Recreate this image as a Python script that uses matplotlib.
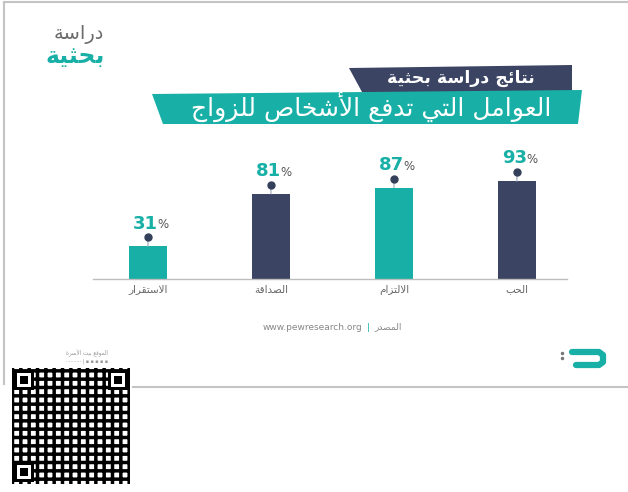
import matplotlib.pyplot as plt
from matplotlib.patches import Polygon, Rectangle
from matplotlib.transforms import offset_copy

plt.rcParams['font.family'] = ['DejaVu Sans']
plt.rcParams['hatch.linewidth'] = 2.5

# data
categories = ["الحب", "الالتزام", "الصداقة", "الاستقرار"]
values = [93, 87, 81, 31]
bar_colors = ["#3b4563", "#18b0a6", "#3b4563", "#18b0a6"]

title_top = "نتائج دراسة بحثية"
title_main = "العوامل التي تدفع الأشخاص للزواج"
source_label = "المصدر"
source_url = "www.pewresearch.org"

TEAL = "#18b0a6"
NAVY = "#3b4563"

# minimal arabic shaping: (isolated, final, initial, medial)
FORMS = {
    'ا': ('\uFE8D', '\uFE8E', None, None),
    'أ': ('\uFE83', '\uFE84', None, None),
    'ب': ('\uFE8F', '\uFE90', '\uFE91', '\uFE92'),
    'ة': ('\uFE93', '\uFE94', None, None),
    'ت': ('\uFE95', '\uFE96', '\uFE97', '\uFE98'),
    'ث': ('\uFE99', '\uFE9A', '\uFE9B', '\uFE9C'),
    'ج': ('\uFE9D', '\uFE9E', '\uFE9F', '\uFEA0'),
    'ح': ('\uFEA1', '\uFEA2', '\uFEA3', '\uFEA4'),
    'خ': ('\uFEA5', '\uFEA6', '\uFEA7', '\uFEA8'),
    'د': ('\uFEA9', '\uFEAA', None, None),
    'ر': ('\uFEAD', '\uFEAE', None, None),
    'ز': ('\uFEAF', '\uFEB0', None, None),
    'س': ('\uFEB1', '\uFEB2', '\uFEB3', '\uFEB4'),
    'ش': ('\uFEB5', '\uFEB6', '\uFEB7', '\uFEB8'),
    'ص': ('\uFEB9', '\uFEBA', '\uFEBB', '\uFEBC'),
    'ع': ('\uFEC9', '\uFECA', '\uFECB', '\uFECC'),
    'ف': ('\uFED1', '\uFED2', '\uFED3', '\uFED4'),
    'ق': ('\uFED5', '\uFED6', '\uFED7', '\uFED8'),
    'ل': ('\uFEDD', '\uFEDE', '\uFEDF', '\uFEE0'),
    'م': ('\uFEE1', '\uFEE2', '\uFEE3', '\uFEE4'),
    'ن': ('\uFEE5', '\uFEE6', '\uFEE7', '\uFEE8'),
    'و': ('\uFEED', '\uFEEE', None, None),
    'ي': ('\uFEF1', '\uFEF2', '\uFEF3', '\uFEF4'),
    'ئ': ('\uFE89', '\uFE8A', '\uFE8B', '\uFE8C'),
    'لا': ('\uFEFB', '\uFEFC', None, None),
    'لأ': ('\uFEF7', '\uFEF8', None, None),
}


def ar(text):
    units = []
    i = 0
    while i < len(text):
        if text[i] == 'ل' and i + 1 < len(text) and text[i + 1] in 'اأ':
            units.append(text[i:i + 2])
            i += 2
        else:
            units.append(text[i])
            i += 1
    out = []
    for k, u in enumerate(units):
        if u not in FORMS:
            out.append(u)
            continue
        prev = units[k - 1] if k > 0 else None
        nxt = units[k + 1] if k + 1 < len(units) else None
        jp = prev in FORMS and FORMS[prev][2] is not None
        jn = FORMS[u][2] is not None and nxt in FORMS
        f = FORMS[u]
        if jp and jn:
            out.append(f[3])
        elif jp:
            out.append(f[1])
        elif jn:
            out.append(f[2])
        else:
            out.append(f[0])
    return ''.join(out[::-1])


fig = plt.figure(figsize=(6.28, 4.92), dpi=100)

# background layer in pixel coordinates
bg = fig.add_axes([0, 0, 1, 1], zorder=0)
bg.set_xlim(0, 628)
bg.set_ylim(492, 0)
bg.axis('off')

# frame
bg.plot([4, 628], [1.5, 1.5], color="#c4c4c4", lw=1.5)
bg.plot([4, 4], [1.5, 384], color="#c4c4c4", lw=1.5)
bg.plot([133, 628], [387, 387], color="#c4c4c4", lw=1.5)

# header
bg.text(104, 35, ar("دراسة"), ha='right', va='center', fontsize=14, color="#6b6b6b")
bg.text(105, 56, ar("بحثية"), ha='right', va='center', fontsize=17,
        color=TEAL, fontweight='bold')

# banners
bg.add_patch(Polygon([(349, 68), (572, 65), (572, 92), (362, 92)], closed=True,
                     color=NAVY, lw=0))
bg.add_patch(Polygon([(152, 94), (582, 90), (578, 124), (163, 124)], closed=True,
                     color=TEAL, lw=0))
bg.text(461, 78, ar(title_top), ha='center', va='center', fontsize=12.5,
        color='white', fontweight='bold')
bg.text(371, 107, ar(title_main), ha='center', va='center', fontsize=18,
        color='white')

# source
bg.text(362, 327, source_url, ha='right', va='center', fontsize=6.5, color="#888888")
bg.text(368, 327, "|", ha='center', va='center', fontsize=6.5, color=TEAL)
bg.text(374, 327, ar(source_label), ha='left', va='center', fontsize=6.5, color="#888888")

# logo
bg.plot([572, 599, 603, 603, 599, 576], [352, 352, 355, 362, 365, 365],
        color=TEAL, lw=4.5, solid_capstyle='round', solid_joinstyle='round')
bg.plot([562, 562], [353, 358], 'o', ms=1.5, color="#777777")

# footer text and code block
bg.text(108, 353, ar("الموقع بيت الأسرة"), ha='right', va='center', fontsize=4, color="#999999")
bg.text(108, 361, "·········· | ▪ ▪ ▪ ▪ ▪", ha='right', va='center', fontsize=3.5, color="#999999")
bg.add_patch(Rectangle((12, 368), 118, 116, facecolor='white', edgecolor='black',
                       hatch='++', lw=0))
for fx, fy in [(14, 370), (108, 370), (14, 462)]:
    bg.add_patch(Rectangle((fx, fy), 20, 20, color='black', lw=0))
    bg.add_patch(Rectangle((fx + 3, fy + 3), 14, 14, color='white', lw=0))
    bg.add_patch(Rectangle((fx + 6, fy + 6), 8, 8, color='black', lw=0))

# bar chart
ax = fig.add_axes([93 / 628, 1 - 279 / 492, 474 / 628, 105 / 492], zorder=1)
ax.patch.set_alpha(0)
x = list(range(len(values)))
ax.bar(x, values, width=0.31, color=bar_colors, zorder=2)
ax.set_xlim(3.447, -0.407)
ax.set_ylim(0, 100)
for s in ['top', 'right', 'left']:
    ax.spines[s].set_visible(False)
ax.spines['bottom'].set_color("#bdbdbd")
ax.spines['bottom'].set_linewidth(1)
ax.set_yticks([])
ax.set_xticks(x)
ax.set_xticklabels([ar(c) for c in categories], fontsize=7.5, color="#666666")
ax.tick_params(axis='x', length=0, pad=4)

dot_tr = offset_copy(ax.transData, fig=fig, x=0, y=6.5, units='points')
for xi, v in zip(x, values):
    ax.annotate("", xy=(xi, v), xytext=(0, 6.5), textcoords='offset points',
                arrowprops=dict(arrowstyle='-', color="#9aa6b8", lw=0.8,
                                shrinkA=0, shrinkB=0), annotation_clip=False)
    ax.plot(xi, v, 'o', ms=5, color="#34405a", transform=dot_tr, clip_on=False, zorder=3)
    ax.annotate(str(v), xy=(xi, v), xytext=(7, 16.5), textcoords='offset points',
                ha='right', va='center', fontsize=13, fontweight='bold', color=TEAL,
                annotation_clip=False)
    ax.annotate("%", xy=(xi, v), xytext=(7, 15.5), textcoords='offset points',
                ha='left', va='center', fontsize=8.5, color="#555555",
                annotation_clip=False)

fig.savefig("out.png", dpi=100)
